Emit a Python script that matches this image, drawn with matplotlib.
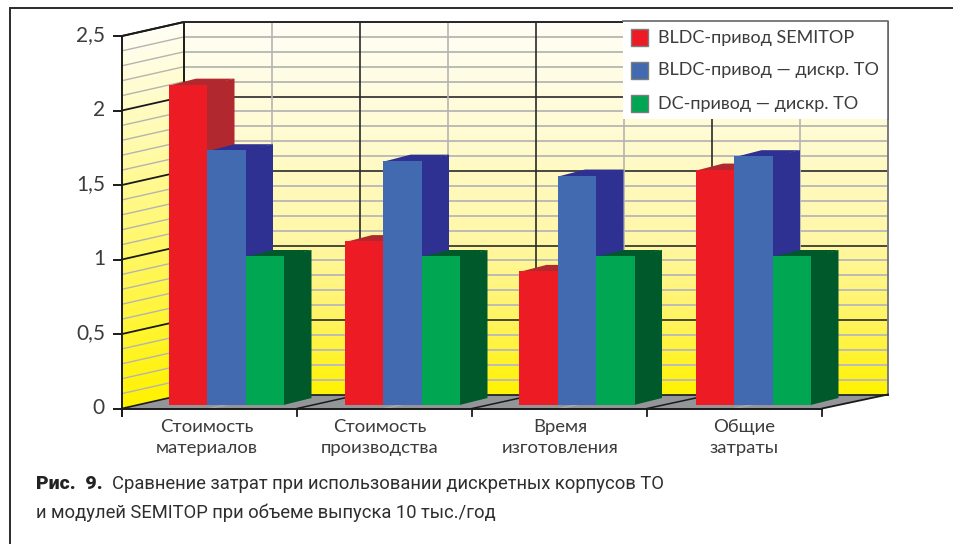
import numpy as np
import matplotlib
matplotlib.use('Agg')
import matplotlib.pyplot as plt
from matplotlib.colors import LinearSegmentedColormap
from matplotlib.patches import Polygon, Rectangle

# chart data
categories = ['Стоимость\nматериалов', 'Стоимость\nпроизводства', 'Время\nизготовления', 'Общие\nзатраты']
semitop = [2.15, 1.10, 0.90, 1.58]
bldc_disc = [1.71, 1.64, 1.54, 1.67]
dc_disc = [1.0, 1.0, 1.0, 1.0]
y_ticks = [0, 0.5, 1, 1.5, 2, 2.5]
y_tick_labels = ['0', '0,5', '1', '1,5', '2', '2,5']
series_names = ['BLDC-привод SEMITOP', 'BLDC-привод — дискр. ТО', 'DC-привод — дискр. ТО']

# pixel layout of the fake 3d box
UNIT = 149.0
FRONT_L, FRONT_R, FRONT_0 = 122, 822, 408.5
BACK_L, BACK_R, BACK_0 = 184, 888, 394.5
BAR_0 = 405
BAR_W = 38.5
DEPTH_X, DEPTH_Y = 27, 7
TOP_DY = 6
group_left = [169, 345, 519.5, 696]
label_x = [207, 380, 560, 744]

face_cols = ['#ED1C24', '#416AB0', '#00A651']
side_cols = ['#B1282E', '#2E3192', '#00592A']
label_col = '#3c3c3c'

wall_cmap = LinearSegmentedColormap.from_list(
    'wall', [(0, '#FFF200'), (0.2, '#FFF461'), (0.4, '#FFF7A3'), (0.7, '#FFFBD2'), (1, '#FFFEF6')])

fig = plt.figure(figsize=(9.54, 5.44), dpi=100)
ax = fig.add_axes([0, 0, 1, 1])
ax.set_xlim(0, 954)
ax.set_ylim(544, 0)
ax.axis('off')


def front_y(v):
    return FRONT_0 - v * UNIT


def back_y(v):
    return BACK_0 - v * UNIT


# page frame
ax.plot([10.5, 10.5, 954], [544, 7.5, 7.5], color='#2b2b2b', lw=1.4, zorder=1, solid_joinstyle='miter')

# walls with the vertical gradient
grad = np.linspace(1, 0, 256).reshape(-1, 1)
ax.imshow(grad, cmap=wall_cmap, extent=[BACK_L, BACK_R, back_y(0), back_y(2.5)],
          aspect='auto', vmin=0, vmax=1, zorder=2)
ax.set_xlim(0, 954)
ax.set_ylim(544, 0)
levels = np.array([0, 2.5])
X = np.array([[FRONT_L, BACK_L], [FRONT_L, BACK_L]])
Y = np.array([[front_y(v), back_y(v)] for v in levels])
C = np.array([[v / 2.5, v / 2.5] for v in levels])
ax.pcolormesh(X, Y, C, cmap=wall_cmap, shading='gouraud', vmin=0, vmax=1, zorder=2)

# floor
ax.add_patch(Polygon([(FRONT_L, FRONT_0), (BACK_L, BACK_0), (BACK_R, BACK_0), (FRONT_R, FRONT_0)],
                     closed=True, fc='#939598', ec='none', zorder=3))

# wall gridlines, minor every 0.1 and major every 0.5
for i in range(1, 25):
    v = i / 10
    if i % 5 == 0:
        continue
    ax.plot([BACK_L, BACK_R], [back_y(v), back_y(v)], color='#bcbcb6', lw=1.4, zorder=4)
    ax.plot([FRONT_L, BACK_L], [front_y(v), back_y(v)], color='#b4b4b0', lw=1.0, zorder=4)
for v in y_ticks:
    if v == 0:
        continue
    ax.plot([BACK_L, BACK_R], [back_y(v), back_y(v)], color='#2a2a2a', lw=1.2, zorder=5)
    ax.plot([FRONT_L, BACK_L], [front_y(v), back_y(v)], color='#1a1a1a', lw=1.3, zorder=5)

back_step = (BACK_R - BACK_L) / 8
front_step = (FRONT_R - FRONT_L) / 8
for k in range(1, 8):
    col = '#2a2a2a' if k % 2 == 0 else '#b4b4b4'
    bx = BACK_L + k * back_step
    ax.plot([bx, bx], [back_y(2.5), back_y(0)], color=col, lw=1.2, zorder=5)
    fx = FRONT_L + k * front_step
    ax.plot([fx, bx], [FRONT_0, BACK_0], color='#1a1a1a' if k % 2 == 0 else '#a8a8a8', lw=1.1, zorder=6)

# box edges
ax.plot([FRONT_L, BACK_L, BACK_L], [front_y(2.5), back_y(2.5), back_y(0)], color='#1a1a1a', lw=1.4, zorder=6)
ax.plot([BACK_L, BACK_R], [back_y(2.5), back_y(2.5)], color='#2a2a2a', lw=1.4, zorder=6)
ax.plot([BACK_R, BACK_R], [back_y(2.5), back_y(0)], color='#7a7a7a', lw=1.4, zorder=6)
ax.plot([FRONT_L, BACK_L], [FRONT_0, BACK_0], color='#1a1a1a', lw=1.2, zorder=6)
ax.plot([BACK_L, BACK_R], [BACK_0, BACK_0], color='#1a1a1a', lw=1.2, zorder=6)
ax.plot([FRONT_R, BACK_R], [FRONT_0, BACK_0], color='#1a1a1a', lw=1.3, zorder=6)
ax.plot([FRONT_L, FRONT_R], [FRONT_0, FRONT_0], color='#1a1a1a', lw=1.4, zorder=9)
ax.plot([FRONT_L, FRONT_L], [front_y(2.5), FRONT_0 + 7], color='#1a1a1a', lw=1.4, zorder=9)

# ticks
for v, lab in zip(y_ticks, y_tick_labels):
    ax.plot([FRONT_L - 7.5, FRONT_L], [front_y(v), front_y(v)], color='#1a1a1a', lw=1.4, zorder=9)
    ax.text(105, front_y(v) - 0.5, lab, ha='right', va='center', fontsize=15, color=label_col,
            family='Lato')
for k in range(0, 5):
    tx = FRONT_L + 2 * k * front_step
    ax.plot([tx, tx], [FRONT_0, FRONT_0 + 7.5], color='#1a1a1a', lw=1.3, zorder=9)

# bars, back to front within each group so fronts hide the neighbour's side
z = 10
for i in range(len(categories)):
    vals = [semitop[i], bldc_disc[i], dc_disc[i]]
    for j, val in enumerate(vals):
        x0 = group_left[i] + j * BAR_W
        x1 = x0 + BAR_W
        top = BAR_0 - val * UNIT
        ax.add_patch(Polygon([(x1 - 1, BAR_0), (x1 + DEPTH_X, BAR_0 - DEPTH_Y), (x1 + DEPTH_X, top - TOP_DY), (x1 - 1, top)],
                             closed=True, fc=side_cols[j], ec='none', zorder=z))
        ax.add_patch(Polygon([(x0, top + 1), (x0 + DEPTH_X, top - TOP_DY), (x1 + DEPTH_X, top - TOP_DY), (x1, top + 1)],
                             closed=True, fc=side_cols[j], ec='none', zorder=z))
        ax.add_patch(Rectangle((x0, top), BAR_W, val * UNIT, fc=face_cols[j], ec='none', zorder=z + 1))
        z += 2

# category labels
for lx, cat in zip(label_x, categories):
    line1, line2 = cat.split('\n')
    ax.text(lx, 427, line1, ha='center', va='center', fontsize=13.3, color=label_col, family='Lato')
    ax.text(lx, 448, line2, ha='center', va='center', fontsize=13.3, color=label_col, family='Lato')

# legend box
ax.add_patch(Rectangle((623, 21), 265, 98, fc='white', ec='none', zorder=100))
ax.plot([623, 888, 888], [21, 21, 119], color='#666666', lw=1.2, zorder=101)
for j, name in enumerate(series_names):
    ly = 37.5 + j * 33
    ax.add_patch(Rectangle((631, ly - 8.5), 17, 17, fc=face_cols[j], ec='#7d7d7d', lw=1, zorder=102))
    ax.text(658, ly, name, ha='left', va='center', fontsize=13, color=label_col, family='Lato', zorder=102)

# caption
ax.text(36, 484, 'Рис.  9.', ha='left', va='center', fontsize=14, fontweight=900, color='#222222',
        family='Roboto')
ax.text(112, 484, 'Сравнение затрат при использовании дискретных корпусов ТО', ha='left', va='center',
        fontsize=13.2, color='#2e2e2e', family='Roboto')
ax.text(36, 513, 'и модулей SEMITOP при объеме выпуска 10 тыс./год', ha='left', va='center',
        fontsize=13.2, color='#2e2e2e', family='Roboto')

fig.savefig('out.png', dpi=100)
